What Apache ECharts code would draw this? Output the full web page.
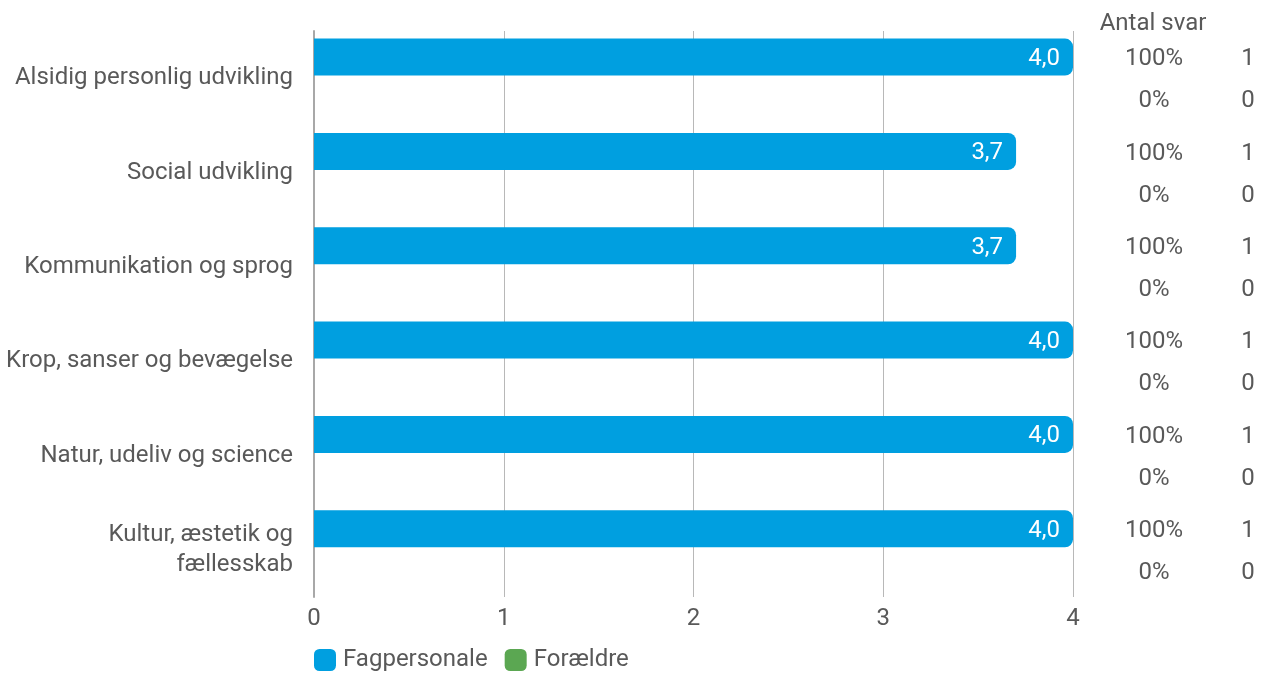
<!DOCTYPE html>
<html>
<head>
<meta charset="utf-8">
<script src="https://cdn.jsdelivr.net/npm/echarts@6/dist/echarts.min.js"></script>
<style>
html,body{margin:0;padding:0;background:#fff;}
#chart{width:1265px;height:673px;}
</style>
</head>
<body>
<div id="chart"></div>
<script>
const categories = [
  'Alsidig personlig udvikling',
  'Social udvikling',
  'Kommunikation og sprog',
  'Krop, sanser og bevægelse',
  'Natur, udeliv og science',
  'Kultur, æstetik og\nfællesskab'
];
const fagpersonale = [4.0, 3.7, 3.7, 4.0, 4.0, 4.0];
const foraeldre = [null, null, null, null, null, null];
const fagShare = [100, 100, 100, 100, 100, 100];
const fagCount = [1, 1, 1, 1, 1, 1];
const forShare = [0, 0, 0, 0, 0, 0];
const forCount = [0, 0, 0, 0, 0, 0];
const xTicks = [0, 1, 2, 3, 4];

const TXT = '#595959';
const FONT = 'Roboto';
const FS = 24;
const BLUE = '#009FE0';
const GREEN = '#5BA752';

const chart = echarts.init(document.getElementById('chart'));
const sideData = categories.map((c, i) => [i, fagShare[i], fagCount[i], forShare[i], forCount[i]]);

chart.setOption({
  animation: false,
  textStyle: {fontFamily: FONT},
  grid: {left: 314, right: 192, top: 31, bottom: 76, containLabel: false},
  legend: {
    left: 314, top: 648, padding: 0,
    itemWidth: 22, itemHeight: 22, itemGap: 17,
    icon: 'roundRect',
    textStyle: {fontSize: FS, color: TXT, fontFamily: FONT, padding: [2, 0, 0, 2]},
    data: ['Fagpersonale', 'Forældre']
  },
  xAxis: {
    type: 'value', min: 0, max: 4, interval: 1,
    axisLine: {show: false},
    axisTick: {show: false},
    splitLine: {show: true, lineStyle: {color: '#b8b8b8', width: 1}},
    axisLabel: {fontSize: FS, color: TXT, margin: 10, fontFamily: FONT,
      formatter: v => xTicks.includes(v) ? String(v) : ''}
  },
  yAxis: {
    type: 'category', inverse: true, data: categories,
    axisLine: {show: true, lineStyle: {color: '#a8a8a8', width: 2}},
    axisTick: {show: false},
    axisLabel: {fontSize: FS, color: TXT, margin: 21, fontFamily: FONT, lineHeight: 30, align: 'right', padding: [4, 0, 0, 0]}
  },
  series: [
    {
      name: 'Fagpersonale', type: 'bar', data: fagpersonale,
      barWidth: 37, barGap: '14%',
      itemStyle: {color: BLUE, borderRadius: [0, 8, 8, 0]},
      label: {show: true, position: 'insideRight', distance: 13, offset: [0, 2], color: '#fff', fontSize: FS, fontFamily: FONT,
        formatter: p => p.value.toFixed(1).replace('.', ',')}
    },
    {
      name: 'Forældre', type: 'bar', data: foraeldre,
      barWidth: 37, barGap: '14%',
      itemStyle: {color: GREEN, borderRadius: [0, 8, 8, 0]}
    },
    {
      type: 'custom', name: 'side', data: sideData, silent: true,
      encode: {x: 1, y: 0},
      clip: false,
      legendHoverLink: false,
      renderItem: function (params, api) {
        const idx = api.value(0);
        const base = api.coord([4, idx]);
        const xr = base[0];
        const yc = base[1];
        const mk = (x, y, t) => ({type: 'text', x: x, y: y,
          style: {text: t, fill: TXT, font: FS + 'px ' + FONT, align: 'center', verticalAlign: 'middle'}});
        return {type: 'group', children: [
          mk(xr + 81, yc - 19, api.value(1) + '%'),
          mk(xr + 175, yc - 19, String(api.value(2))),
          mk(xr + 81, yc + 23, api.value(3) + '%'),
          mk(xr + 175, yc + 23, String(api.value(4)))
        ]};
      }
    }
  ],
  graphic: [
    {type: 'text', x: 1153, y: 24, style: {text: 'Antal svar', fill: TXT, font: FS + 'px ' + FONT, align: 'center', verticalAlign: 'middle'}}
  ]
});
</script>
</body>
</html>
